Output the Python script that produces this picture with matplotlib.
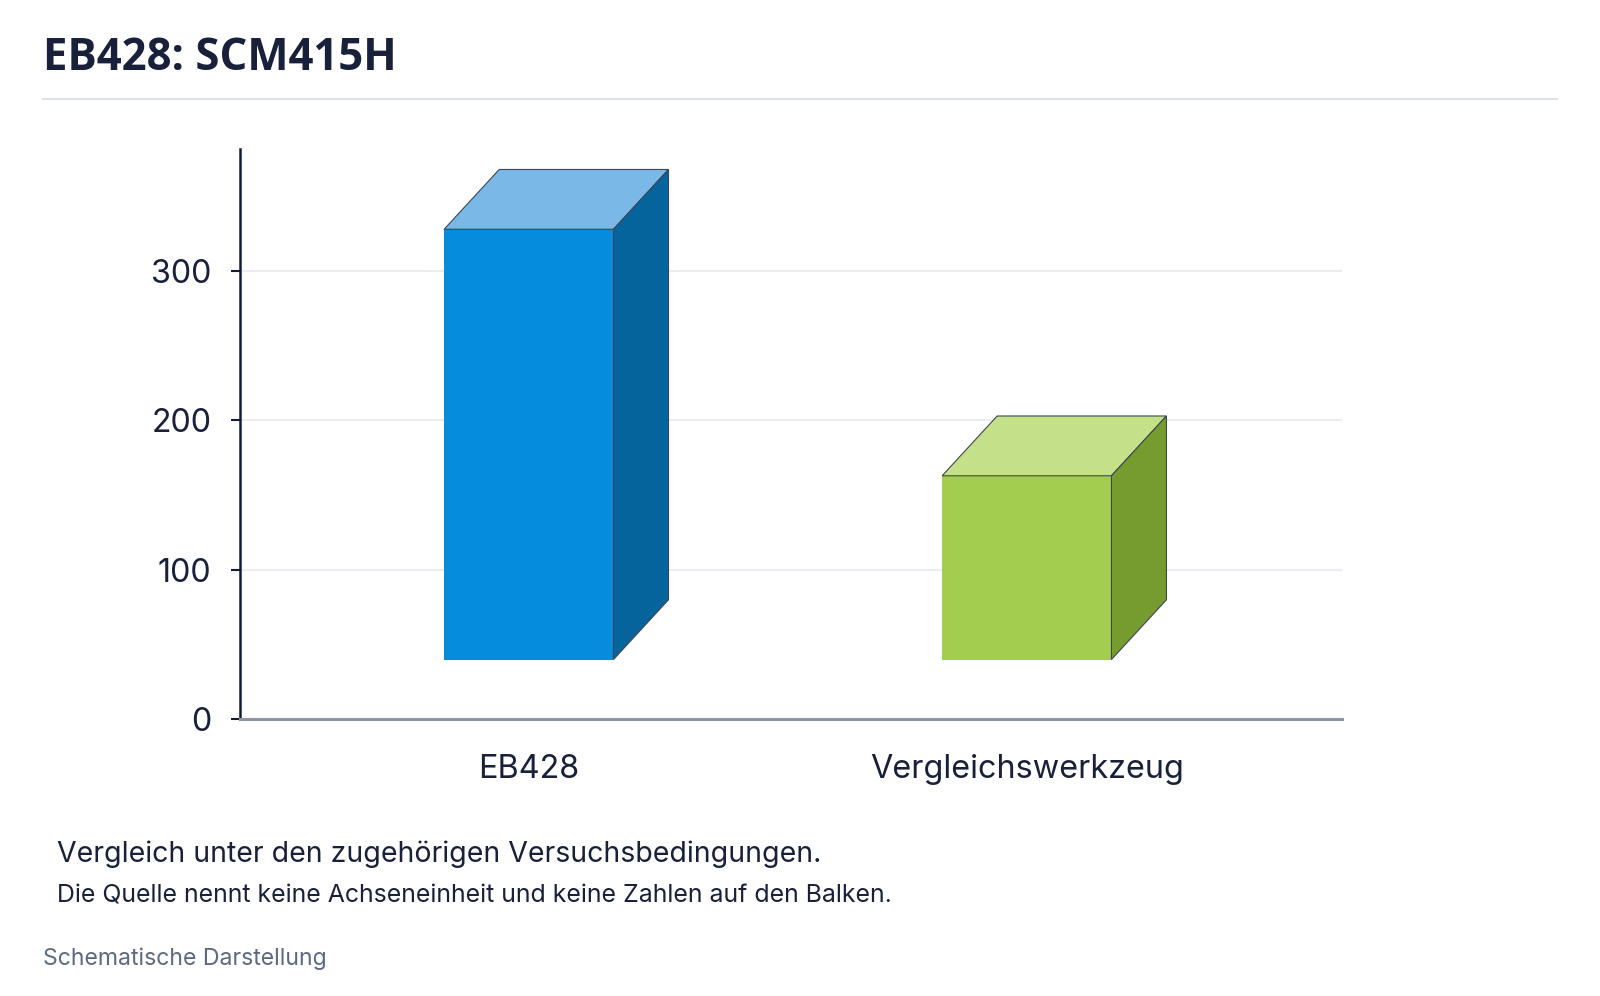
import matplotlib
matplotlib.use("Agg")
import matplotlib.pyplot as plt
from matplotlib.patches import Polygon

# ---- data ----
categories = ["EB428", "Vergleichswerkzeug"]
values = [328, 163]
y_ticks = [0, 100, 200, 300]

title = "EB428: SCM415H"
note_1 = "Vergleich unter den zugehörigen Versuchsbedingungen."
note_2 = "Die Quelle nennt keine Achseneinheit und keine Zahlen auf den Balken."
footer = "Schematische Darstellung"

# ---- styles ----
front_colors = ["#058cdd", "#a2cd4e"]
top_colors = ["#7ab9e7", "#c4e089"]
side_colors = ["#05649c", "#769b2e"]
edge_color = "#3b4656"
text_dark = "#18203a"
bar_width = 0.34
depth_x = 0.1105   # category units
depth_y = 40       # value units
base = 40          # front face floor (perspective offset)

plt.rcParams["font.family"] = ["Inter", "DejaVu Sans"]

W, H = 1600, 996
fig = plt.figure(figsize=(W / 100, H / 100), dpi=100)
fig.patch.set_facecolor("white")

ax = fig.add_axes([240 / W, (H - 719.3) / H, 1102 / W, (719.3 - 149) / H])
ax.set_facecolor("white")
ax.set_xlim(-0.58, 1.633)
ax.set_ylim(0, 381.7)

xs = list(range(len(categories)))
for i, (x, v) in enumerate(zip(xs, values)):
    ax.bar(x, v - base, bottom=base, width=bar_width, color=front_colors[i],
           linewidth=0, zorder=3)
    l, r = x - bar_width / 2, x + bar_width / 2
    top = Polygon([(l, v), (r, v), (r + depth_x, v + depth_y), (l + depth_x, v + depth_y)],
                  closed=True, facecolor=top_colors[i], edgecolor=edge_color,
                  linewidth=0.8, zorder=4)
    side = Polygon([(r, base), (r + depth_x, base + depth_y), (r + depth_x, v + depth_y), (r, v)],
                   closed=True, facecolor=side_colors[i], edgecolor=edge_color,
                   linewidth=0.8, zorder=4)
    ax.add_patch(top)
    ax.add_patch(side)

ax.set_yticks(y_ticks)
ax.set_yticklabels([str(t) for t in y_ticks])
ax.set_xticks(xs)
ax.set_xticklabels(categories)
ax.grid(axis="y", color="#e6e9ef", linewidth=1.2, zorder=0)
ax.grid(axis="x", visible=False)
ax.set_axisbelow(True)

for s in ["top", "right"]:
    ax.spines[s].set_visible(False)
ax.spines["left"].set_color("#141c33")
ax.spines["left"].set_linewidth(1.8)
ax.spines["bottom"].set_color("#8d95a5")
ax.spines["bottom"].set_linewidth(2.2)
ax.spines["bottom"].set_zorder(5)

ax.tick_params(axis="y", length=6.5, width=1.5, color="#141c33", pad=14,
               labelsize=23.2, labelcolor=text_dark)
ax.tick_params(axis="x", length=0, pad=25, labelsize=23.3, labelcolor=text_dark)

# ---- header / notes ----
fig.text(43 / W, (H - 70) / H, title, fontsize=31.5, fontweight="bold",
         color=text_dark, va="baseline", ha="left",
         family=["Open Sans", "DejaVu Sans"])
fig.add_artist(plt.Line2D([43 / W, 1557 / W], [(H - 99) / H] * 2,
                          color="#dde3ec", linewidth=1.5))
fig.text(57 / W, (H - 861.7) / H, note_1, fontsize=20.5, color=text_dark,
         va="baseline", ha="left")
fig.text(57 / W, (H - 902.7) / H, note_2, fontsize=17.9, color=text_dark,
         va="baseline", ha="left")
fig.text(43 / W, (H - 965) / H, footer, fontsize=16.6, color="#5b6a82",
         va="baseline", ha="left")

fig.savefig("out.png", dpi=100, facecolor="white")
